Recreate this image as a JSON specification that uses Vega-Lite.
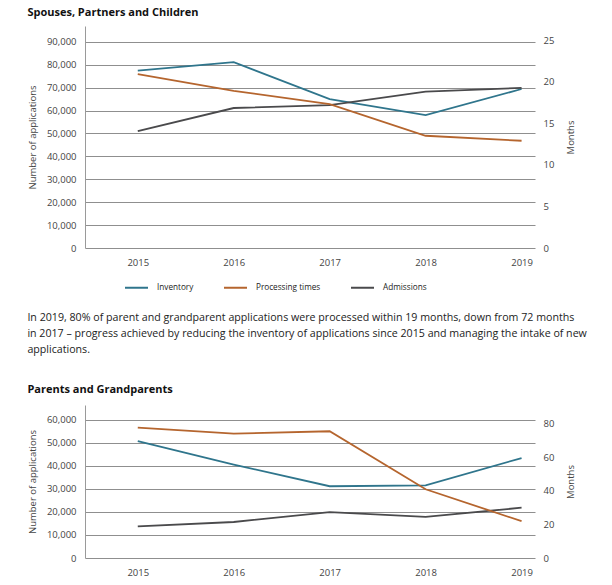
{
  "$schema": "https://vega.github.io/schema/vega-lite/v6.json",
  "padding": {"left": 27, "top": 7, "right": 5, "bottom": 5},
  "background": "white",
  "config": {
    "font": "Open Sans",
    "view": {"stroke": null},
    "axis": {"labelFont": "Open Sans", "titleFont": "Open Sans", "labelColor": "#444", "titleColor": "#444", "labelFontSize": 9.5, "titleFontSize": 9.5, "titleFontWeight": "normal", "ticks": false}
  },
  "spacing": 20,
  "resolve": {"scale": {"color": "independent", "x": "independent", "y": "independent"}, "legend": {"color": "independent"}},
  "vconcat": [
    {
      "title": {"text": "Spouses, Partners and Children", "anchor": "start", "frame": "bounds", "fontSize": 11, "fontWeight": "bold", "color": "#111", "offset": 8},
      "width": 450,
      "height": 222,
      "data": {"values": [
        {"year": 2015, "series": "Inventory", "value": 77400},
        {"year": 2016, "series": "Inventory", "value": 81100},
        {"year": 2017, "series": "Inventory", "value": 65000},
        {"year": 2018, "series": "Inventory", "value": 58000},
        {"year": 2019, "series": "Inventory", "value": 69400},
        {"year": 2015, "series": "Admissions", "value": 51000},
        {"year": 2016, "series": "Admissions", "value": 61100},
        {"year": 2017, "series": "Admissions", "value": 62400},
        {"year": 2018, "series": "Admissions", "value": 68300},
        {"year": 2019, "series": "Admissions", "value": 69900},
        {"year": 2015, "series": "Processing times", "value": 20.9},
        {"year": 2016, "series": "Processing times", "value": 18.9},
        {"year": 2017, "series": "Processing times", "value": 17.3},
        {"year": 2018, "series": "Processing times", "value": 13.5},
        {"year": 2019, "series": "Processing times", "value": 12.9}
      ]},
      "encoding": {
        "x": {"field": "year", "type": "quantitative", "scale": {"domain": [2014.45, 2019.14], "nice": false, "zero": false},
              "axis": {"values": [2015, 2016, 2017, 2018, 2019], "format": "d", "title": null, "grid": false, "domain": false, "labelPadding": 9}},
        "color": {"field": "series", "type": "nominal",
                  "scale": {"domain": ["Inventory", "Processing times", "Admissions"], "range": ["#2f758c", "#b5652e", "#4a4a4c"]},
                  "legend": {"orient": "none", "legendX": 39, "legendY": 249, "direction": "horizontal", "title": null, "symbolType": "stroke", "symbolStrokeWidth": 2, "symbolSize": 529, "labelFontSize": 8.2, "labelColor": "#222", "labelFont": "Open Sans", "columnPadding": 26, "labelOffset": 8}}
      },
      "layer": [
        {
          "transform": [{"filter": "datum.series !== 'Processing times'"}],
          "mark": {"type": "line", "strokeWidth": 1.8},
          "encoding": {
            "y": {"field": "value", "type": "quantitative", "scale": {"domain": [0, 96900], "nice": false},
                  "axis": {"values": [0, 10000, 20000, 30000, 40000, 50000, 60000, 70000, 80000, 90000], "format": ",d", "title": "Number of applications", "grid": true, "gridColor": "#8f8f8f", "gridWidth": 1, "domain": true, "domainColor": "#9a9a9a", "labelPadding": 9, "titlePadding": 9}}
          }
        },
        {
          "transform": [{"filter": "datum.series === 'Processing times'"}],
          "mark": {"type": "line", "strokeWidth": 1.8},
          "encoding": {
            "y": {"field": "value", "type": "quantitative", "scale": {"domain": [0, 26.7], "nice": false},
                  "axis": {"orient": "right", "values": [0, 5, 10, 15, 20, 25], "title": "Months", "titleAngle": 270, "grid": false, "domain": false, "labelPadding": 8, "titlePadding": 22}}
          }
        }
      ],
      "resolve": {"scale": {"y": "independent"}}
    },
    {
      "title": {
        "text": ["In 2019, 80% of parent and grandparent applications were processed within 19 months, down from 72 months", "in 2017 – progress achieved by reducing the inventory of applications since 2015 and managing the intake of new", "applications."],
        "anchor": "start", "frame": "bounds", "fontSize": 10.65, "fontWeight": "normal", "lineHeight": 16, "color": "#222", "offset": 9,
        "subtitle": "Parents and Grandparents", "subtitleFontSize": 11, "subtitleFontWeight": "bold", "subtitleColor": "#111", "subtitlePadding": 28, "subtitleFont": "Open Sans"
      },
      "width": 450,
      "height": 153,
      "data": {"values": [
        {"year": 2015, "series": "Inventory", "value": 50600},
        {"year": 2016, "series": "Inventory", "value": 40500},
        {"year": 2017, "series": "Inventory", "value": 31100},
        {"year": 2018, "series": "Inventory", "value": 31500},
        {"year": 2019, "series": "Inventory", "value": 43300},
        {"year": 2015, "series": "Admissions", "value": 13700},
        {"year": 2016, "series": "Admissions", "value": 15600},
        {"year": 2017, "series": "Admissions", "value": 19900},
        {"year": 2018, "series": "Admissions", "value": 17800},
        {"year": 2019, "series": "Admissions", "value": 21800},
        {"year": 2015, "series": "Processing times", "value": 77.6},
        {"year": 2016, "series": "Processing times", "value": 74.0},
        {"year": 2017, "series": "Processing times", "value": 75.4},
        {"year": 2018, "series": "Processing times", "value": 40.9},
        {"year": 2019, "series": "Processing times", "value": 21.9}
      ]},
      "encoding": {
        "x": {"field": "year", "type": "quantitative", "scale": {"domain": [2014.45, 2019.14], "nice": false, "zero": false},
              "axis": {"values": [2015, 2016, 2017, 2018, 2019], "format": "d", "title": null, "grid": false, "domain": false, "labelPadding": 9}},
        "color": {"field": "series", "type": "nominal",
                  "scale": {"domain": ["Inventory", "Processing times", "Admissions"], "range": ["#2f758c", "#b5652e", "#4a4a4c"]},
                  "legend": null}
      },
      "layer": [
        {
          "transform": [{"filter": "datum.series !== 'Processing times'"}],
          "mark": {"type": "line", "strokeWidth": 1.8},
          "encoding": {
            "y": {"field": "value", "type": "quantitative", "scale": {"domain": [0, 66300], "nice": false},
                  "axis": {"values": [0, 10000, 20000, 30000, 40000, 50000, 60000], "format": ",d", "title": "Number of applications", "grid": true, "gridColor": "#8f8f8f", "gridWidth": 1, "domain": true, "domainColor": "#9a9a9a", "labelPadding": 9, "titlePadding": 9}}
          }
        },
        {
          "transform": [{"filter": "datum.series === 'Processing times'"}],
          "mark": {"type": "line", "strokeWidth": 1.8},
          "encoding": {
            "y": {"field": "value", "type": "quantitative", "scale": {"domain": [0, 91], "nice": false},
                  "axis": {"orient": "right", "values": [0, 20, 40, 60, 80], "title": "Months", "titleAngle": 270, "grid": false, "domain": false, "labelPadding": 8, "titlePadding": 22}}
          }
        }
      ],
      "resolve": {"scale": {"y": "independent"}}
    }
  ]
}
